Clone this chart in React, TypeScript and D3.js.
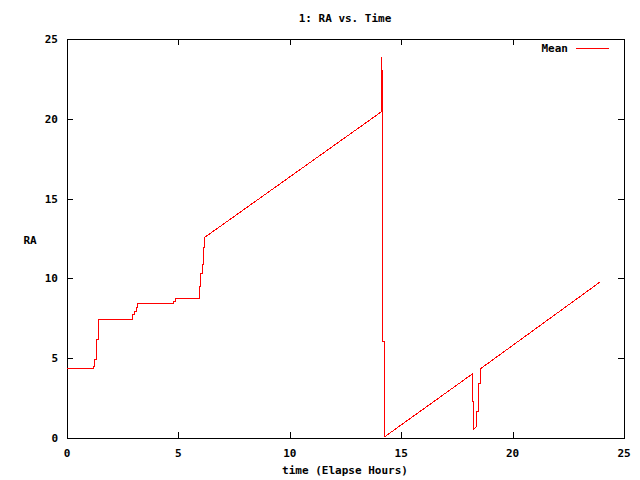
import React from "react";
import { scaleLinear, line } from "d3";

const width = 640;
const height = 480;

// elapsed hours and RA mean
const hours = [
  0, 1.18, 1.18, 1.25, 1.25, 1.33, 1.33, 1.41, 1.41, 2.95, 2.95, 3.01, 3.01,
  3.1, 3.1, 3.16, 3.16, 4.8, 4.8, 4.89, 4.89, 5.94, 5.94, 6.0, 6.0, 6.09, 6.09,
  6.12, 6.12, 6.18, 6.18, 14.12, 14.12, 14.16, 14.16, 14.18, 14.18, 14.23,
  14.23, 18.19, 18.19, 18.24, 18.24, 18.36, 18.39, 18.39, 18.48, 18.48, 18.54,
  18.54, 23.92,
];
const raMean = [
  4.37, 4.37, 4.5, 4.5, 4.93, 4.93, 6.18, 6.18, 7.44, 7.44, 7.75, 7.75, 7.91,
  7.91, 8.19, 8.19, 8.44, 8.44, 8.54, 8.54, 8.75, 8.75, 9.52, 9.52, 10.32,
  10.32, 10.88, 10.88, 11.95, 11.95, 12.57, 20.45, 23.9, 22.1, 17.94, 17.94,
  6.04, 6.04, 0.05, 4.01, 2.27, 2.27, 0.54, 0.71, 0.71, 1.65, 1.65, 3.42, 3.42,
  4.32, 9.77,
];

const xTicks = [0, 5, 10, 15, 20, 25];
const yTicks = [0, 5, 10, 15, 20, 25];

const left = 67;
const right = 624;
const top = 39;
const bottom = 438;
const font = "'DejaVu Sans Mono', monospace";

const App = () => {
  const xScale = scaleLinear().domain([0, 25]).range([left, right]);
  const yScale = scaleLinear().domain([0, 25]).range([bottom, top]);

  const points = hours.map((h, i) => [h, raMean[i]] as [number, number]);
  const path = line<[number, number]>()
    .x((d) => xScale(d[0]))
    .y((d) => yScale(d[1]))(points);

  return (
    <svg
      width={width}
      height={height}
      style={{ position: "absolute", left: 0, top: 0, background: "#fff" }}
      fontFamily={font}
      fontSize={11}
      fontWeight="bold"
    >
      <rect x={0} y={0} width={width} height={height} fill="#fff" />
      <g stroke="#000" shapeRendering="crispEdges">
        <rect
          x={left + 0.5}
          y={top + 0.5}
          width={right - left}
          height={bottom - top}
          fill="none"
        />
        {xTicks.map((t) => (
          <g key={"x" + t}>
            <line x1={xScale(t) + 0.5} x2={xScale(t) + 0.5} y1={bottom} y2={bottom - 6} />
            <line x1={xScale(t) + 0.5} x2={xScale(t) + 0.5} y1={top} y2={top + 6} />
          </g>
        ))}
        {yTicks.map((t) => (
          <g key={"y" + t}>
            <line x1={left} x2={left + 6} y1={yScale(t) + 0.5} y2={yScale(t) + 0.5} />
            <line x1={right} x2={right - 6} y1={yScale(t) + 0.5} y2={yScale(t) + 0.5} />
          </g>
        ))}
      </g>
      {xTicks.map((t) => (
        <text key={"xl" + t} x={xScale(t)} y={457} textAnchor="middle">
          {t}
        </text>
      ))}
      {yTicks.map((t) => (
        <text key={"yl" + t} x={58} y={yScale(t) + 4} textAnchor="end">
          {t}
        </text>
      ))}
      <text x={345} y={22} textAnchor="middle">
        1: RA vs. Time
      </text>
      <text x={345} y={474} textAnchor="middle">
        time (Elapse Hours)
      </text>
      <text x={30} y={244} textAnchor="middle">
        RA
      </text>
      <text x={568} y={52} textAnchor="end">
        Mean
      </text>
      <line
        x1={576}
        x2={609}
        y1={48.5}
        y2={48.5}
        stroke="#ff0000"
        shapeRendering="crispEdges"
      />
      <path
        d={path ?? ""}
        fill="none"
        stroke="#ff0000"
        strokeWidth={1}
        shapeRendering="crispEdges"
      />
    </svg>
  );
};

export default App;
